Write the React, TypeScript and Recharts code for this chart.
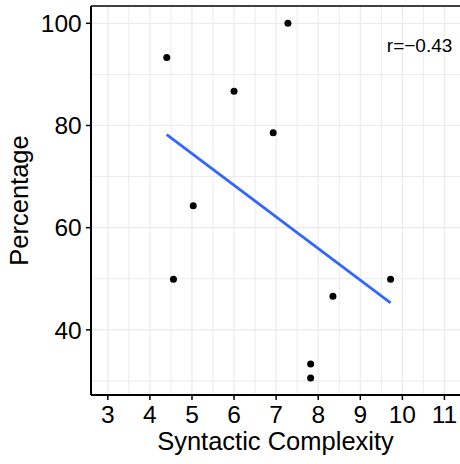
import React from 'react';
import { ScatterChart, Scatter, XAxis, YAxis, ReferenceLine, ReferenceDot } from 'recharts';

const FONT = '"Liberation Sans", Arial, Helvetica, sans-serif';

// Observations
const complexity = [4.4, 7.28, 6.0, 6.93, 5.03, 4.56, 9.72, 8.35, 7.82, 7.82];
const percentage = [93.3, 100, 86.7, 78.6, 64.3, 49.9, 49.9, 46.6, 33.3, 30.6];

// Linear fit endpoints
const fitX = [4.4, 9.72];
const fitY = [78.2, 45.3];

// Ticks and grid
const xTicks = [3, 4, 5, 6, 7, 8, 9, 10, 11];
const yTicks = [40, 60, 80, 100];
const xMinor = [3.5, 4.5, 5.5, 6.5, 7.5, 8.5, 9.5, 10.5];
const yMinor = [30, 50, 70, 90];

const X_DOMAIN = [2.6, 11.37];
const Y_DOMAIN = [27.25, 103.39];

// Annotation
const annotText = 'r=\u22120.43';
const annotPos = [10.41, 95.8];

const points = complexity.map((x, i) => ({ x, y: percentage[i] }));
const fit = fitX.map((x, i) => ({ x, y: fitY[i] }));

const GRID = '#EBEBEB';

export default function App() {
  return (
    <div style={{ position: 'absolute', left: 0, top: 0, width: 460, height: 464, background: '#fff' }}>
      <ScatterChart
        width={460}
        height={464}
        margin={{ top: 6, right: 0, bottom: 0, left: 0 }}
        style={{ fontFamily: FONT }}
      >
        {xMinor.map((v) => (
          <ReferenceLine key={'xm' + v} x={v} stroke={GRID} strokeWidth={1} />
        ))}
        {yMinor.map((v) => (
          <ReferenceLine key={'ym' + v} y={v} stroke={GRID} strokeWidth={1} />
        ))}
        {xTicks.map((v) => (
          <ReferenceLine key={'xM' + v} x={v} stroke={GRID} strokeWidth={1.2} />
        ))}
        {yTicks.map((v) => (
          <ReferenceLine key={'yM' + v} y={v} stroke={GRID} strokeWidth={1.2} />
        ))}
        <ReferenceLine y={Y_DOMAIN[1]} stroke="#000" strokeWidth={1.5} ifOverflow="visible" />
        <XAxis
          type="number"
          dataKey="x"
          domain={X_DOMAIN}
          ticks={xTicks}
          allowDataOverflow
          height={69}
          tickSize={5}
          tickMargin={5.6}
          tick={{ fill: '#000', fontSize: 24.5, fontFamily: FONT }}
          axisLine={{ stroke: '#000', strokeWidth: 2 }}
          tickLine={{ stroke: '#000', strokeWidth: 1.5 }}
          label={{ value: 'Syntactic Complexity', position: 'insideBottom', offset: 14, fill: '#000', fontSize: 25.5, fontFamily: FONT }}
        />
        <YAxis
          type="number"
          dataKey="y"
          domain={Y_DOMAIN}
          ticks={yTicks}
          allowDataOverflow
          width={91}
          tickSize={5}
          tickMargin={4.3}
          tick={{ fill: '#000', fontSize: 24.5, fontFamily: FONT }}
          axisLine={{ stroke: '#000', strokeWidth: 2 }}
          tickLine={{ stroke: '#000', strokeWidth: 1.5 }}
          label={{ value: 'Percentage', angle: -90, position: 'insideLeft', offset: 19, style: { textAnchor: 'middle' }, fill: '#000', fontSize: 25.5, fontFamily: FONT }}
        />
        <Scatter data={points} fill="#000" isAnimationActive={false} shape={(p: any) => <circle cx={p.cx} cy={p.cy} r={3.5} fill="#000" />} />
        <Scatter
          data={fit}
          isAnimationActive={false}
          line={{ stroke: '#3366FF', strokeWidth: 2.8 }}
          lineType="joint"
          shape={() => <g />}
          legendType="none"
        />
        <ReferenceDot
          x={annotPos[0]}
          y={annotPos[1]}
          r={0}
          fill="none"
          stroke="none"
          label={{ value: annotText, position: 'center', fill: '#000', fontSize: 19, fontFamily: FONT }}
        />
      </ScatterChart>
    </div>
  );
}
